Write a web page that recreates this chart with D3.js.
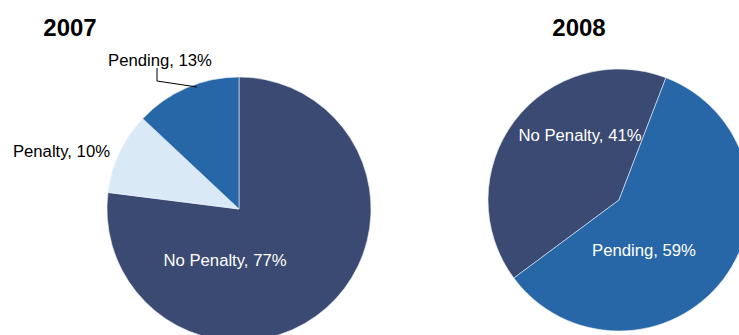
<!DOCTYPE html>
<html>
<head>
<meta charset="utf-8">
<script src="https://cdn.jsdelivr.net/npm/d3@7"></script>
<style>
  html, body { margin: 0; padding: 0; background: #fff; }
  svg { display: block; font-family: Arial, "Liberation Sans", sans-serif; }
</style>
</head>
<body>
<svg id="chart" width="739" height="335"></svg>
<script>
// Case outcomes by year
const categories = ["No Penalty", "Penalty", "Pending"];
const values2007 = [77, 10, 13];
const values2008 = [41, 0, 59];
const years = ["2007", "2008"];
const colors = ["#3b4a72", "#d9eaf6", "#2767a7"];

const svg = d3.select("#chart");
const color = d3.scaleOrdinal().domain(categories).range(colors);

function drawPie(opts) {
  const data = categories.map((c, i) => ({ name: c, value: opts.values[i] }));
  const pie = d3.pie().sort(null).value(d => d.value)
    .startAngle(opts.start).endAngle(opts.start + 2 * Math.PI);
  const arcs = pie(data).filter(d => d.value > 0);
  const arc = d3.arc().innerRadius(0).outerRadius(opts.r);

  const g = svg.append("g").attr("transform", `translate(${opts.cx},${opts.cy})`);
  g.selectAll("path").data(arcs).join("path")
    .attr("d", arc)
    .attr("fill", d => color(d.data.name))
    .attr("stroke", "#e8eef6")
    .attr("stroke-width", 0.6);

  svg.append("text")
    .attr("x", opts.titleX).attr("y", 36)
    .attr("text-anchor", "middle")
    .attr("font-size", 24).attr("font-weight", "bold")
    .attr("fill", "#000")
    .text(opts.title);

  return { g, arcs, arc };
}

// 2007
const p1 = drawPie({ values: values2007, cx: 239, cy: 209, r: 132, start: 0, title: years[0], titleX: 70 });
// 2008
const p2 = drawPie({ values: values2008, cx: 619, cy: 200, r: 131, start: 233.4 * Math.PI / 180, title: years[1], titleX: 579 });

function label(g, d, x, y, fill, anchor) {
  g.append("text")
    .attr("x", x).attr("y", y)
    .attr("text-anchor", anchor || "middle")
    .attr("font-size", 16.7)
    .attr("fill", fill)
    .text(`${d.data.name}, ${d.value}%`);
}

const a07 = Object.fromEntries(p1.arcs.map(d => [d.data.name, d]));
const a08 = Object.fromEntries(p2.arcs.map(d => [d.data.name, d]));

// 2007 labels (coordinates relative to pie centre)
label(p1.g, a07["No Penalty"], -14, 57, "#ffffff");
label(p1.g, a07["Penalty"], -129, -52, "#000000", "end");
label(p1.g, a07["Pending"], -79, -143, "#000000");

// leader line for the Pending label
p1.g.append("path")
  .attr("d", "M-82,-141 V-128 L-42,-122")
  .attr("fill", "none")
  .attr("stroke", "#000")
  .attr("stroke-width", 1);

// 2008 labels
label(p2.g, a08["No Penalty"], -39, -59, "#ffffff");
label(p2.g, a08["Pending"], 25, 56, "#ffffff");
</script>
</body>
</html>
